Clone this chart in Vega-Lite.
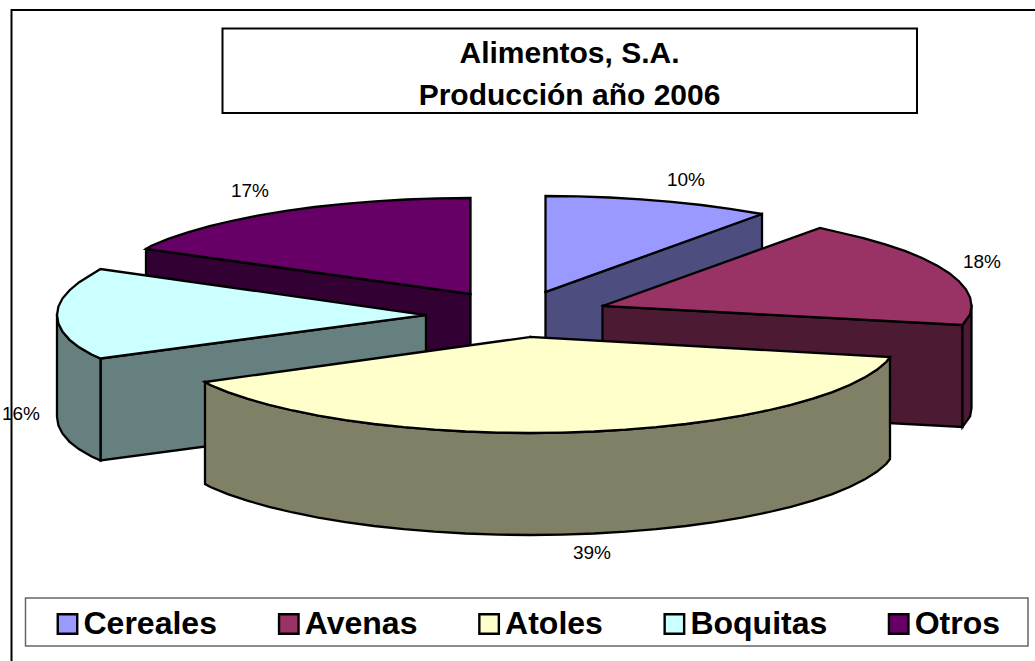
{"$schema":"https://vega.github.io/schema/vega-lite/v6.json","width":1035,"height":661,"padding":0,"autosize":{"type":"none"},"background":"white","view":{"stroke":null},
"title":{"text":["Alimentos, S.A.","Producción año 2006"],"frame":"group","anchor":"middle","baseline":"top","dx":52,"offset":-111,"font":"Liberation Sans","fontSize":30,"fontWeight":"bold","color":"#000","lineHeight":42,"zindex":1},
"encoding":{"x":{"field":"x","type":"quantitative","axis":null,"scale":{"domain":[0,1035],"nice":false,"zero":false}},"y":{"field":"y","type":"quantitative","axis":null,"scale":{"domain":[661,0],"nice":false,"zero":false}}},
"layer":[
{"data":{"values":[{"marco":"area","x":11.5,"x2":1100,"y":10,"y2":700},{"marco":"titulo","x":222.5,"x2":917,"y":28.5,"y2":113}]},
"mark":{"type":"rect","fill":"white","stroke":"#000","strokeWidth":2},
"encoding":{"x2":{"field":"x2"},"y2":{"field":"y2"}}},
{"data":{"values":[{"marco":"leyenda","x":25.5,"x2":1028,"y":598,"y2":646}]},
"mark":{"type":"rect","fill":"white","stroke":"#666","strokeWidth":1.5},
"encoding":{"x2":{"field":"x2"},"y2":{"field":"y2"}}},
{"data":{"values":[
{"p":"Otros lateral","c":"o1","n":0,"x":146,"y":249},{"p":"Otros lateral","c":"o1","n":1,"x":470.5,"y":294},{"p":"Otros lateral","c":"o1","n":2,"x":470.5,"y":396},{"p":"Otros lateral","c":"o1","n":3,"x":146,"y":351},{"p":"Otros lateral","c":"o1","n":4,"x":146,"y":249},
{"p":"Otros","c":"o2","n":0,"x":470.5,"y":294},{"p":"Otros","c":"o2","n":1,"x":470.5,"y":198},{"p":"Otros","c":"o2","n":1.5,"x":438.3,"y":198.4},{"p":"Otros","c":"o2","n":2,"x":406.4,"y":199.5},{"p":"Otros","c":"o2","n":2.5,"x":375,"y":201.3},{"p":"Otros","c":"o2","n":3,"x":344.3,"y":203.8},{"p":"Otros","c":"o2","n":3.5,"x":314.6,"y":207},{"p":"Otros","c":"o2","n":4,"x":286,"y":210.9},{"p":"Otros","c":"o2","n":4.5,"x":258.8,"y":215.4},{"p":"Otros","c":"o2","n":5,"x":233.3,"y":220.5},{"p":"Otros","c":"o2","n":5.5,"x":209.6,"y":226.1},{"p":"Otros","c":"o2","n":6,"x":187.8,"y":232.3},{"p":"Otros","c":"o2","n":6.5,"x":168.2,"y":238.9},{"p":"Otros","c":"o2","n":7,"x":150.9,"y":246},{"p":"Otros","c":"o2","n":8,"x":146,"y":249},{"p":"Otros","c":"o2","n":9,"x":470.5,"y":294},
{"p":"Cereales lateral","c":"c1","n":0,"x":545.5,"y":292},{"p":"Cereales lateral","c":"c1","n":1,"x":762,"y":214},{"p":"Cereales lateral","c":"c1","n":2,"x":762,"y":316},{"p":"Cereales lateral","c":"c1","n":3,"x":545.5,"y":394},{"p":"Cereales lateral","c":"c1","n":4,"x":545.5,"y":292},
{"p":"Cereales","c":"c2","n":0,"x":545.5,"y":292},{"p":"Cereales","c":"c2","n":1,"x":545.5,"y":196},{"p":"Cereales","c":"c2","n":1.5,"x":577.7,"y":196.4},{"p":"Cereales","c":"c2","n":2,"x":609.6,"y":197.5},{"p":"Cereales","c":"c2","n":2.5,"x":641,"y":199.3},{"p":"Cereales","c":"c2","n":3,"x":671.7,"y":201.8},{"p":"Cereales","c":"c2","n":3.5,"x":701.4,"y":205},{"p":"Cereales","c":"c2","n":4,"x":730,"y":208.9},{"p":"Cereales","c":"c2","n":5,"x":762,"y":214},{"p":"Cereales","c":"c2","n":6,"x":545.5,"y":292},
{"p":"Boquitas lateral","c":"b1","n":0,"x":426,"y":315},{"p":"Boquitas lateral","c":"b1","n":1,"x":100.5,"y":358.5},{"p":"Boquitas lateral","c":"b1","n":2,"x":100.5,"y":460.5},{"p":"Boquitas lateral","c":"b1","n":3,"x":426,"y":417},{"p":"Boquitas lateral","c":"b1","n":4,"x":426,"y":315},
{"p":"Boquitas lateral","c":"b2","n":0,"x":57,"y":315},{"p":"Boquitas lateral","c":"b2","n":1,"x":58.4,"y":323.4},{"p":"Boquitas lateral","c":"b2","n":2,"x":62.6,"y":331.7},{"p":"Boquitas lateral","c":"b2","n":3,"x":69.6,"y":339.8},{"p":"Boquitas lateral","c":"b2","n":4,"x":79.2,"y":347.3},{"p":"Boquitas lateral","c":"b2","n":5,"x":91.6,"y":354.5},{"p":"Boquitas lateral","c":"b2","n":6,"x":100.5,"y":358.5},{"p":"Boquitas lateral","c":"b2","n":7,"x":100.5,"y":460.5},{"p":"Boquitas lateral","c":"b2","n":8,"x":91.6,"y":456.5},{"p":"Boquitas lateral","c":"b2","n":9,"x":79.2,"y":449.3},{"p":"Boquitas lateral","c":"b2","n":10,"x":69.6,"y":441.8},{"p":"Boquitas lateral","c":"b2","n":11,"x":62.6,"y":433.7},{"p":"Boquitas lateral","c":"b2","n":12,"x":58.4,"y":425.4},{"p":"Boquitas lateral","c":"b2","n":13,"x":57,"y":417},{"p":"Boquitas lateral","c":"b2","n":14,"x":57,"y":315},
{"p":"Boquitas","c":"b3","n":0,"x":426,"y":315},{"p":"Boquitas","c":"b3","n":1,"x":100.5,"y":269},{"p":"Boquitas","c":"b3","n":2,"x":91.6,"y":274.4},{"p":"Boquitas","c":"b3","n":3,"x":79.2,"y":282.2},{"p":"Boquitas","c":"b3","n":4,"x":69.6,"y":290.2},{"p":"Boquitas","c":"b3","n":5,"x":62.6,"y":298.3},{"p":"Boquitas","c":"b3","n":6,"x":58.4,"y":306.6},{"p":"Boquitas","c":"b3","n":7,"x":57,"y":315},{"p":"Boquitas","c":"b3","n":8,"x":58.4,"y":323.4},{"p":"Boquitas","c":"b3","n":9,"x":62.6,"y":331.7},{"p":"Boquitas","c":"b3","n":10,"x":69.6,"y":339.8},{"p":"Boquitas","c":"b3","n":11,"x":79.2,"y":347.3},{"p":"Boquitas","c":"b3","n":12,"x":91.6,"y":354.5},{"p":"Boquitas","c":"b3","n":13,"x":100.5,"y":358.5},{"p":"Boquitas","c":"b3","n":14,"x":426,"y":315},
{"p":"Avenas lateral","c":"a1","n":0,"x":602.5,"y":306},{"p":"Avenas lateral","c":"a1","n":1,"x":962.5,"y":325},{"p":"Avenas lateral","c":"a1","n":2,"x":962.5,"y":427},{"p":"Avenas lateral","c":"a1","n":3,"x":602.5,"y":408},{"p":"Avenas lateral","c":"a1","n":4,"x":602.5,"y":306},
{"p":"Avenas lateral","c":"a2","n":0,"x":971.5,"y":306},{"p":"Avenas lateral","c":"a2","n":1,"x":970.1,"y":314.4},{"p":"Avenas lateral","c":"a2","n":2,"x":962.5,"y":325},{"p":"Avenas lateral","c":"a2","n":3,"x":962.5,"y":427},{"p":"Avenas lateral","c":"a2","n":4,"x":970.1,"y":416.4},{"p":"Avenas lateral","c":"a2","n":5,"x":971.5,"y":408},{"p":"Avenas lateral","c":"a2","n":6,"x":971.5,"y":306},
{"p":"Avenas","c":"a3","n":0,"x":602.5,"y":306},{"p":"Avenas","c":"a3","n":1,"x":820,"y":228},{"p":"Avenas","c":"a3","n":2,"x":839.7,"y":232.5},{"p":"Avenas","c":"a3","n":2.5,"x":863.4,"y":238.1},{"p":"Avenas","c":"a3","n":3,"x":885.2,"y":244.3},{"p":"Avenas","c":"a3","n":3.5,"x":904.8,"y":250.9},{"p":"Avenas","c":"a3","n":4,"x":922.1,"y":258},{"p":"Avenas","c":"a3","n":5,"x":936.9,"y":265.4},{"p":"Avenas","c":"a3","n":6,"x":949.3,"y":273.2},{"p":"Avenas","c":"a3","n":7,"x":958.9,"y":281.2},{"p":"Avenas","c":"a3","n":8,"x":965.9,"y":289.3},{"p":"Avenas","c":"a3","n":9,"x":970.1,"y":297.6},{"p":"Avenas","c":"a3","n":10,"x":971.5,"y":306},{"p":"Avenas","c":"a3","n":11,"x":970.1,"y":314.4},{"p":"Avenas","c":"a3","n":12,"x":962.5,"y":325},{"p":"Avenas","c":"a3","n":13,"x":602.5,"y":306},
{"p":"Atoles lateral","c":"t1","n":0,"x":890,"y":357},{"p":"Atoles lateral","c":"t1","n":1,"x":886.4,"y":361.8},{"p":"Atoles lateral","c":"t1","n":2,"x":876.8,"y":369.8},{"p":"Atoles lateral","c":"t1","n":3,"x":864.4,"y":377.6},{"p":"Atoles lateral","c":"t1","n":4,"x":849.6,"y":385},{"p":"Atoles lateral","c":"t1","n":4.5,"x":832.3,"y":392.1},{"p":"Atoles lateral","c":"t1","n":5,"x":812.7,"y":398.7},{"p":"Atoles lateral","c":"t1","n":5.5,"x":790.9,"y":404.9},{"p":"Atoles lateral","c":"t1","n":6,"x":767.2,"y":410.5},{"p":"Atoles lateral","c":"t1","n":6.5,"x":741.7,"y":415.6},{"p":"Atoles lateral","c":"t1","n":7,"x":714.5,"y":420.1},{"p":"Atoles lateral","c":"t1","n":7.5,"x":685.9,"y":424},{"p":"Atoles lateral","c":"t1","n":8,"x":656.2,"y":427.2},{"p":"Atoles lateral","c":"t1","n":8.5,"x":625.5,"y":429.7},{"p":"Atoles lateral","c":"t1","n":9,"x":594.1,"y":431.5},{"p":"Atoles lateral","c":"t1","n":9.5,"x":562.2,"y":432.6},{"p":"Atoles lateral","c":"t1","n":10,"x":530,"y":433},{"p":"Atoles lateral","c":"t1","n":10.5,"x":497.8,"y":432.6},{"p":"Atoles lateral","c":"t1","n":11,"x":465.9,"y":431.5},{"p":"Atoles lateral","c":"t1","n":11.5,"x":434.5,"y":429.7},{"p":"Atoles lateral","c":"t1","n":12,"x":403.8,"y":427.2},{"p":"Atoles lateral","c":"t1","n":12.5,"x":374.1,"y":424},{"p":"Atoles lateral","c":"t1","n":13,"x":345.5,"y":420.1},{"p":"Atoles lateral","c":"t1","n":13.5,"x":318.3,"y":415.6},{"p":"Atoles lateral","c":"t1","n":14,"x":292.8,"y":410.5},{"p":"Atoles lateral","c":"t1","n":14.5,"x":269.1,"y":404.9},{"p":"Atoles lateral","c":"t1","n":15,"x":247.3,"y":398.7},{"p":"Atoles lateral","c":"t1","n":15.5,"x":227.7,"y":392.1},{"p":"Atoles lateral","c":"t1","n":16,"x":210.4,"y":385},{"p":"Atoles lateral","c":"t1","n":17,"x":205,"y":382},{"p":"Atoles lateral","c":"t1","n":18,"x":205,"y":484},{"p":"Atoles lateral","c":"t1","n":19,"x":210.4,"y":487},{"p":"Atoles lateral","c":"t1","n":19.5,"x":227.7,"y":494.1},{"p":"Atoles lateral","c":"t1","n":20,"x":247.3,"y":500.7},{"p":"Atoles lateral","c":"t1","n":20.5,"x":269.1,"y":506.9},{"p":"Atoles lateral","c":"t1","n":21,"x":292.8,"y":512.5},{"p":"Atoles lateral","c":"t1","n":21.5,"x":318.3,"y":517.6},{"p":"Atoles lateral","c":"t1","n":22,"x":345.5,"y":522.1},{"p":"Atoles lateral","c":"t1","n":22.5,"x":374.1,"y":526},{"p":"Atoles lateral","c":"t1","n":23,"x":403.8,"y":529.2},{"p":"Atoles lateral","c":"t1","n":23.5,"x":434.5,"y":531.7},{"p":"Atoles lateral","c":"t1","n":24,"x":465.9,"y":533.5},{"p":"Atoles lateral","c":"t1","n":24.5,"x":497.8,"y":534.6},{"p":"Atoles lateral","c":"t1","n":25,"x":530,"y":535},{"p":"Atoles lateral","c":"t1","n":25.5,"x":562.2,"y":534.6},{"p":"Atoles lateral","c":"t1","n":26,"x":594.1,"y":533.5},{"p":"Atoles lateral","c":"t1","n":26.5,"x":625.5,"y":531.7},{"p":"Atoles lateral","c":"t1","n":27,"x":656.2,"y":529.2},{"p":"Atoles lateral","c":"t1","n":27.5,"x":685.9,"y":526},{"p":"Atoles lateral","c":"t1","n":28,"x":714.5,"y":522.1},{"p":"Atoles lateral","c":"t1","n":28.5,"x":741.7,"y":517.6},{"p":"Atoles lateral","c":"t1","n":29,"x":767.2,"y":512.5},{"p":"Atoles lateral","c":"t1","n":29.5,"x":790.9,"y":506.9},{"p":"Atoles lateral","c":"t1","n":30,"x":812.7,"y":500.7},{"p":"Atoles lateral","c":"t1","n":30.5,"x":832.3,"y":494.1},{"p":"Atoles lateral","c":"t1","n":31,"x":849.6,"y":487},{"p":"Atoles lateral","c":"t1","n":32,"x":864.4,"y":479.6},{"p":"Atoles lateral","c":"t1","n":33,"x":876.8,"y":471.8},{"p":"Atoles lateral","c":"t1","n":34,"x":886.4,"y":463.8},{"p":"Atoles lateral","c":"t1","n":35,"x":890,"y":459},{"p":"Atoles lateral","c":"t1","n":36,"x":890,"y":357},
{"p":"Atoles","c":"t2","n":0,"x":530,"y":337},{"p":"Atoles","c":"t2","n":1,"x":890,"y":357},{"p":"Atoles","c":"t2","n":2,"x":886.4,"y":361.8},{"p":"Atoles","c":"t2","n":3,"x":876.8,"y":369.8},{"p":"Atoles","c":"t2","n":4,"x":864.4,"y":377.6},{"p":"Atoles","c":"t2","n":5,"x":849.6,"y":385},{"p":"Atoles","c":"t2","n":5.5,"x":832.3,"y":392.1},{"p":"Atoles","c":"t2","n":6,"x":812.7,"y":398.7},{"p":"Atoles","c":"t2","n":6.5,"x":790.9,"y":404.9},{"p":"Atoles","c":"t2","n":7,"x":767.2,"y":410.5},{"p":"Atoles","c":"t2","n":7.5,"x":741.7,"y":415.6},{"p":"Atoles","c":"t2","n":8,"x":714.5,"y":420.1},{"p":"Atoles","c":"t2","n":8.5,"x":685.9,"y":424},{"p":"Atoles","c":"t2","n":9,"x":656.2,"y":427.2},{"p":"Atoles","c":"t2","n":9.5,"x":625.5,"y":429.7},{"p":"Atoles","c":"t2","n":10,"x":594.1,"y":431.5},{"p":"Atoles","c":"t2","n":10.5,"x":562.2,"y":432.6},{"p":"Atoles","c":"t2","n":11,"x":530,"y":433},{"p":"Atoles","c":"t2","n":11.5,"x":497.8,"y":432.6},{"p":"Atoles","c":"t2","n":12,"x":465.9,"y":431.5},{"p":"Atoles","c":"t2","n":12.5,"x":434.5,"y":429.7},{"p":"Atoles","c":"t2","n":13,"x":403.8,"y":427.2},{"p":"Atoles","c":"t2","n":13.5,"x":374.1,"y":424},{"p":"Atoles","c":"t2","n":14,"x":345.5,"y":420.1},{"p":"Atoles","c":"t2","n":14.5,"x":318.3,"y":415.6},{"p":"Atoles","c":"t2","n":15,"x":292.8,"y":410.5},{"p":"Atoles","c":"t2","n":15.5,"x":269.1,"y":404.9},{"p":"Atoles","c":"t2","n":16,"x":247.3,"y":398.7},{"p":"Atoles","c":"t2","n":16.5,"x":227.7,"y":392.1},{"p":"Atoles","c":"t2","n":17,"x":210.4,"y":385},{"p":"Atoles","c":"t2","n":18,"x":205,"y":382},{"p":"Atoles","c":"t2","n":19,"x":530,"y":337}
]},
"mark":{"type":"line","stroke":"#000","strokeWidth":2.3,"strokeJoin":"miter","strokeCap":"square"},
"encoding":{"order":{"field":"n","type":"quantitative"},"detail":{"field":"c"},
"fill":{"field":"p","type":"nominal","scale":{"domain":["Cereales","Avenas","Atoles","Boquitas","Otros","Cereales lateral","Avenas lateral","Atoles lateral","Boquitas lateral","Otros lateral"],"range":["#9999FF","#993366","#FFFFCC","#CCFFFF","#660066","#4D4D80","#4D1A33","#808066","#668080","#330033"]},
"legend":{"title":null,"values":["Cereales","Avenas","Atoles","Boquitas","Otros"],"orient":"none","legendX":43.5,"legendY":600,"direction":"horizontal","columns":5,"columnPadding":55.3,"symbolType":"square","symbolSize":380,"symbolStrokeColor":"#000","symbolStrokeWidth":2.4,"labelFont":"Liberation Sans","labelFontSize":32,"labelFontWeight":"bold","labelColor":"#000","labelOffset":0,"labelLimit":400,"padding":8,"zindex":1}}}},
{"data":{"values":[{"sector":"Cereales","share":0.10,"x":686,"y":180},{"sector":"Avenas","share":0.18,"x":982,"y":262},{"sector":"Atoles","share":0.39,"x":592,"y":553},{"sector":"Boquitas","share":0.16,"x":21,"y":414},{"sector":"Otros","share":0.17,"x":250,"y":191}]},
"mark":{"type":"text","font":"Liberation Sans","fontSize":19,"fill":"#000","align":"center","baseline":"middle"},
"encoding":{"text":{"field":"share","type":"quantitative","format":".0%"}}}
]}
